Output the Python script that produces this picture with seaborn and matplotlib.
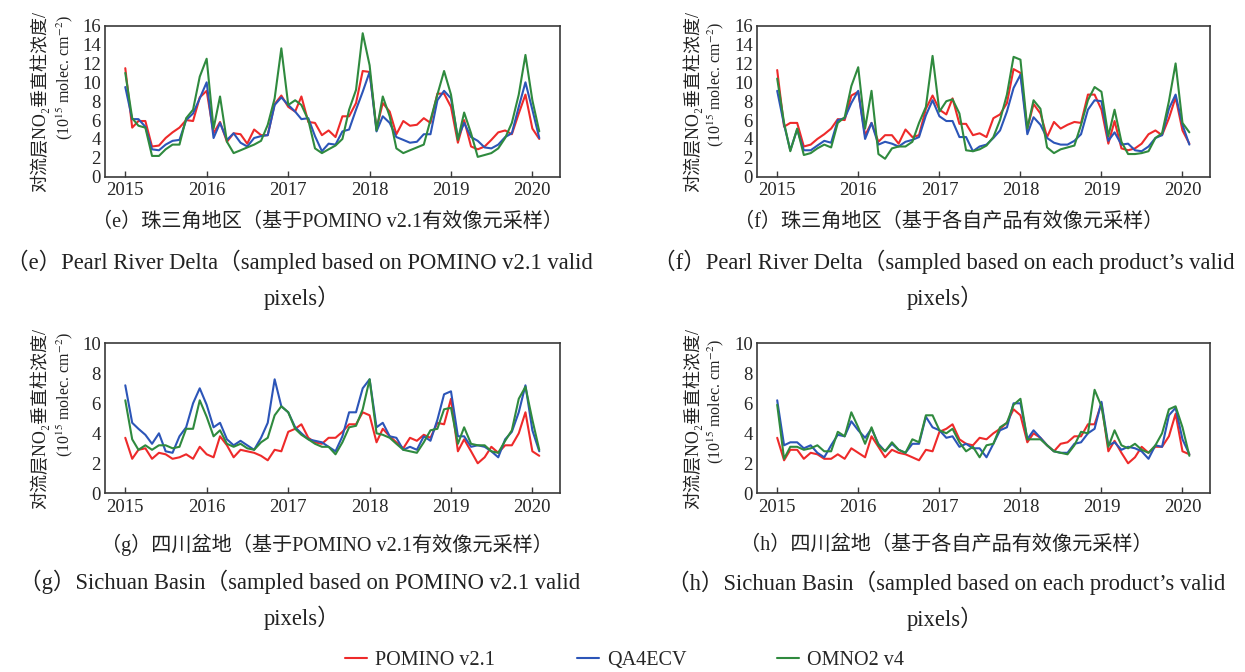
import numpy as np
import pandas as pd
import matplotlib
matplotlib.use("Agg")
import matplotlib.pyplot as plt
import seaborn as sns

# ---------------- data ----------------
products = ["POMINO v2.1", "QA4ECV", "OMNO2 v4"]
colors = ["#ee2a2a", "#2c55b8", "#2f8a3e"]
months = pd.date_range("2015-01-01", periods=62, freq="MS")
year_ticks = ["2015", "2016", "2017", "2018", "2019", "2020"]

e_pomino = [11.5, 5.2, 5.9, 5.9, 3.2, 3.3, 4.1, 4.7, 5.2, 6.0, 5.9, 8.4,
            9.1, 4.6, 5.8, 3.7, 4.6, 4.5, 3.5, 5.0, 4.4, 4.4, 7.7, 8.6,
            7.4, 6.9, 8.5, 5.8, 5.7, 4.4, 4.9, 4.2, 6.4, 6.4, 7.8, 11.2,
            11.1, 5.1, 7.8, 6.9, 4.5, 5.9, 5.4, 5.5, 6.2, 5.7, 8.8, 8.8,
            7.4, 3.6, 6.0, 3.2, 2.9, 3.2, 3.9, 4.7, 4.9, 4.5, 6.7, 8.7,
            5.1, 4.0]
e_qa4ecv = [9.5, 6.1, 6.1, 5.3, 2.9, 2.8, 3.4, 3.8, 3.9, 6.0, 6.7, 8.3,
            10.0, 4.1, 5.7, 3.9, 4.6, 3.6, 3.2, 4.1, 4.3, 4.4, 7.6, 8.4,
            7.6, 6.9, 6.1, 6.2, 4.3, 2.7, 3.5, 3.4, 4.8, 5.0, 7.1, 9.0,
            11.1, 4.8, 6.4, 5.7, 4.2, 3.9, 3.6, 3.7, 4.5, 4.5, 8.1, 9.1,
            8.3, 4.1, 5.7, 4.2, 3.8, 3.1, 3.0, 3.4, 4.2, 4.6, 7.4, 10.0,
            7.1, 4.1]
e_omno2 = [11.0, 6.2, 5.4, 5.2, 2.2, 2.2, 2.9, 3.4, 3.4, 6.2, 7.1, 10.6,
           12.5, 5.1, 8.5, 3.7, 2.5, 2.8, 3.1, 3.4, 3.8, 5.5, 8.3, 13.6,
           7.6, 8.1, 7.6, 6.0, 3.0, 2.5, 2.9, 3.3, 4.0, 7.1, 9.2, 15.2,
           11.8, 4.9, 8.5, 6.4, 3.0, 2.5, 2.8, 3.1, 3.4, 6.0, 8.7, 11.2,
           8.7, 3.9, 6.8, 4.6, 2.1, 2.3, 2.5, 3.0, 4.1, 5.7, 8.7, 12.9,
           8.1, 4.8]

f_pomino = [11.3, 5.3, 5.7, 5.7, 3.2, 3.4, 4.0, 4.5, 5.1, 6.1, 6.0, 8.6,
            9.0, 4.4, 5.7, 3.7, 4.4, 4.4, 3.5, 5.0, 4.2, 4.4, 7.2, 8.6,
            7.1, 6.6, 8.3, 5.6, 5.6, 4.4, 4.6, 4.2, 6.2, 6.6, 7.8, 11.4,
            11.0, 5.1, 7.7, 6.7, 4.2, 5.8, 5.1, 5.5, 5.8, 5.7, 8.7, 8.7,
            7.1, 3.5, 5.9, 3.0, 2.8, 3.0, 3.5, 4.5, 4.9, 4.4, 6.2, 8.4,
            4.9, 3.5]
f_qa4ecv = [9.1, 5.5, 2.8, 5.0, 2.8, 2.8, 3.3, 3.8, 3.6, 6.0, 6.2, 7.8,
            9.1, 4.0, 5.7, 3.4, 3.7, 3.5, 3.2, 3.7, 3.9, 4.2, 6.5, 8.1,
            6.4, 5.9, 5.9, 4.2, 4.2, 2.7, 3.2, 3.4, 4.1, 4.9, 6.9, 9.4,
            10.8, 4.5, 6.3, 5.5, 4.1, 3.6, 3.4, 3.4, 3.8, 4.5, 7.1, 8.1,
            8.0, 3.8, 4.7, 3.4, 3.5, 2.8, 2.7, 3.2, 4.1, 4.4, 7.2, 8.7,
            5.5, 3.4]
f_omno2 = [10.4, 5.7, 2.7, 5.1, 2.3, 2.5, 3.0, 3.4, 3.1, 5.7, 6.3, 9.6,
           11.6, 5.1, 9.1, 2.4, 1.9, 3.0, 3.2, 3.2, 3.7, 5.7, 7.4, 12.8,
           6.9, 8.0, 8.2, 6.7, 2.8, 2.7, 2.9, 3.3, 4.2, 6.0, 8.7, 12.7,
           12.4, 5.1, 8.1, 7.2, 3.1, 2.5, 2.9, 3.1, 3.3, 5.5, 8.1, 9.5,
           9.0, 4.3, 7.1, 3.7, 2.4, 2.4, 2.5, 2.7, 4.1, 4.6, 8.0, 12.0,
           5.7, 4.7]

g_pomino = [3.7, 2.3, 2.9, 3.0, 2.3, 2.7, 2.6, 2.3, 2.4, 2.6, 2.3, 3.1,
            2.6, 2.4, 3.8, 3.2, 2.4, 2.9, 2.8, 2.7, 2.5, 2.2, 2.9, 2.8,
            4.1, 4.3, 4.6, 3.7, 3.4, 3.3, 3.7, 3.7, 4.1, 4.6, 4.6, 5.4,
            5.2, 3.4, 4.3, 3.8, 3.4, 3.0, 3.7, 3.5, 3.9, 3.7, 4.7, 4.6,
            6.3, 2.8, 3.6, 2.8, 2.0, 2.4, 3.1, 2.7, 3.2, 3.2, 4.0, 5.4,
            2.8, 2.5]
g_qa4ecv = [7.2, 4.7, 4.3, 3.9, 3.3, 4.0, 2.8, 2.7, 3.8, 4.4, 6.0, 7.0,
            5.9, 4.4, 4.7, 3.6, 3.2, 3.5, 3.2, 2.9, 3.7, 4.7, 7.6, 5.8,
            5.4, 4.4, 4.0, 3.6, 3.5, 3.4, 3.1, 2.8, 3.8, 5.4, 5.4, 7.0,
            7.6, 4.4, 4.7, 3.8, 3.7, 2.9, 3.1, 2.9, 3.8, 3.5, 4.9, 6.6,
            6.8, 3.8, 3.8, 3.1, 3.2, 3.1, 2.8, 2.4, 3.6, 4.1, 5.4, 7.2,
            4.2, 2.8]
g_omno2 = [6.2, 3.6, 2.9, 3.2, 2.9, 3.2, 3.2, 3.0, 3.1, 4.3, 4.3, 6.2,
           5.1, 3.8, 4.2, 3.3, 3.1, 3.3, 3.0, 2.9, 3.4, 3.7, 5.2, 5.8,
           5.4, 4.3, 3.9, 3.6, 3.3, 3.1, 3.1, 2.6, 3.4, 4.4, 4.5, 5.6,
           7.6, 4.0, 3.9, 3.7, 3.3, 2.9, 2.8, 2.7, 3.4, 4.2, 4.3, 5.6,
           5.7, 3.3, 4.4, 3.3, 3.2, 3.2, 2.8, 2.7, 3.5, 4.2, 6.3, 7.1,
           4.9, 2.9]

h_pomino = [3.7, 2.2, 2.9, 2.9, 2.3, 2.7, 2.6, 2.3, 2.3, 2.6, 2.3, 3.0,
            2.7, 2.4, 3.8, 3.1, 2.4, 2.9, 2.7, 2.6, 2.4, 2.2, 2.9, 2.8,
            4.1, 4.3, 4.6, 3.6, 3.3, 3.2, 3.7, 3.6, 4.0, 4.3, 4.7, 5.6,
            5.2, 3.4, 4.0, 3.7, 3.2, 2.8, 3.3, 3.4, 3.8, 3.8, 4.6, 4.6,
            6.0, 2.8, 3.5, 2.7, 2.0, 2.4, 3.1, 2.7, 3.1, 3.1, 3.8, 5.3,
            2.8, 2.6]
h_qa4ecv = [6.2, 3.2, 3.4, 3.4, 3.0, 3.2, 2.7, 2.4, 3.2, 3.9, 3.8, 4.8,
            4.2, 3.7, 4.3, 3.3, 2.8, 3.3, 2.9, 2.7, 3.3, 3.3, 5.1, 4.4,
            4.2, 3.7, 3.8, 3.1, 3.3, 3.0, 3.0, 2.4, 3.3, 4.2, 4.4, 6.0,
            6.0, 3.6, 4.2, 3.7, 3.2, 2.8, 2.7, 2.7, 3.3, 3.4, 4.0, 4.3,
            6.1, 3.2, 3.4, 2.9, 3.1, 3.0, 2.8, 2.3, 3.2, 3.1, 5.2, 5.7,
            3.6, 2.6]
h_omno2 = [5.9, 2.3, 3.1, 3.1, 2.9, 3.0, 3.2, 2.8, 2.8, 4.1, 3.8, 5.4,
           4.4, 3.3, 4.4, 3.2, 2.8, 3.4, 2.9, 2.7, 3.6, 3.4, 5.2, 5.2,
           4.2, 4.0, 4.3, 3.4, 2.8, 3.1, 2.4, 3.2, 3.3, 4.4, 4.7, 5.9,
           6.3, 3.6, 3.6, 3.6, 3.2, 2.8, 2.7, 2.6, 3.2, 4.1, 4.0, 6.9,
           5.8, 3.1, 4.2, 3.2, 3.0, 3.3, 2.9, 2.7, 3.2, 4.0, 5.6, 5.8,
           4.4, 2.5]

captions = {
    "e": ["（e）珠三角地区（基于POMINO v2.1有效像元采样）",
          "（e）Pearl River Delta（sampled based on POMINO v2.1 valid",
          "pixels）"],
    "f": ["（f）珠三角地区（基于各自产品有效像元采样）",
          "（f）Pearl River Delta（sampled based on each product’s valid",
          "pixels）"],
    "g": ["（g）四川盆地（基于POMINO v2.1有效像元采样）",
          "（g）Sichuan Basin（sampled based on POMINO v2.1 valid",
          "pixels）"],
    "h": ["（h）四川盆地（基于各自产品有效像元采样）",
          "（h）Sichuan Basin（sampled based on each product’s valid",
          "pixels）"],
}
ylabel_line1 = "对流层NO₂垂直柱浓度/"
ylabel_line2 = "(10$^{15}$ molec. cm$^{-2}$)"

# ---------------- style ----------------
sns.set_theme(style="white")
FAMILY = ["Liberation Serif", "Noto Sans CJK SC", "DejaVu Sans"]
plt.rcParams["font.family"] = FAMILY
plt.rcParams["mathtext.fontset"] = "stix"
plt.rcParams["axes.unicode_minus"] = False

W, H = 1245, 672
fig = plt.figure(figsize=(W / 100, H / 100), dpi=100)


def px_axes(left, top, right, bottom):
    return fig.add_axes([left / W, 1 - bottom / H, (right - left) / W, (bottom - top) / H])


panels = [
    ("e", (105, 25.7, 560, 176.7), [e_pomino, e_qa4ecv, e_omno2], 16),
    ("f", (757, 25.7, 1210, 176.7), [f_pomino, f_qa4ecv, f_omno2], 16),
    ("g", (105, 343.3, 560, 493.3), [g_pomino, g_qa4ecv, g_omno2], 10),
    ("h", (757, 343.3, 1210, 493.3), [h_pomino, h_qa4ecv, h_omno2], 10),
]
cap_layout = {
    "e": [(328, 222), (299, 262), (302, 298)],
    "f": [(949, 222), (944, 262), (945, 298)],
    "g": [(327, 545), (300, 582), (302, 618)],
    "h": [(946, 545), (946, 583), (945, 619)],
}
spine_c = "#3a3a3a"
axes = {}
for key, box, series, ymax in panels:
    ax = px_axes(*box)
    axes[key] = ax
    df = pd.concat([pd.DataFrame({"month": months, "value": s, "product": p})
                    for s, p in zip(series, products)], ignore_index=True)
    sns.lineplot(data=df, x="month", y="value", hue="product", hue_order=products,
                 palette=colors, linewidth=1.5, ax=ax, legend=False)
    ax.set_xlim(pd.Timestamp("2014-10-02"), pd.Timestamp("2020-05-04"))
    ax.set_ylim(0, ymax)
    ax.set_yticks(np.arange(0, ymax + 1, 2))
    ax.set_xticks([pd.Timestamp(y + "-01-01") for y in year_ticks])
    ax.set_xticklabels(year_ticks)
    ax.set_xlabel("")
    ax.set_ylabel("")
    ax.tick_params(axis="x", direction="in", length=4, width=1, color=spine_c,
                   labelsize=13.5, pad=4, bottom=True, top=False)
    ax.tick_params(axis="y", length=0, labelsize=13.5, pad=3, left=True)
    for sp in ax.spines.values():
        sp.set_visible(True)
        sp.set_color(spine_c)
        sp.set_linewidth(1.2)
    # y label (two lines)
    l, t, r, b = box
    cy = (t + b) / 2
    x1 = l - 66 if key in ("e", "g") else l - 65
    x2 = l - 40 if key in ("e", "g") else l - 41
    dy = 24 if key in ("e", "g") else 17
    fig.text(x1 / W, 1 - cy / H, ylabel_line1, rotation=90, ha="center", va="center",
             fontsize=13, color="#222", family=FAMILY)
    fig.text(x2 / W, 1 - (cy - dy) / H, ylabel_line2, rotation=90, ha="center",
             va="center", fontsize=11.5, color="#222")
    # captions
    for (cx, cyy), txt, fs in zip(cap_layout[key], captions[key], [14.5, 16.3, 16.3]):
        fig.text(cx / W, 1 - cyy / H, txt, ha="center", va="center", fontsize=fs,
                 color="#222", family=FAMILY)

# legend
handles = axes["e"].get_lines()[:3]
for h, lab, x0 in zip(handles, products, [345, 577, 777]):
    fig.legend(handles=[h], labels=[lab], loc="center left",
               bbox_to_anchor=(x0 / W, 1 - 660 / H), frameon=False, fontsize=14.5,
               handlelength=1.1, handletextpad=0.4, borderpad=0, borderaxespad=0)

fig.savefig("out.png", dpi=100)
